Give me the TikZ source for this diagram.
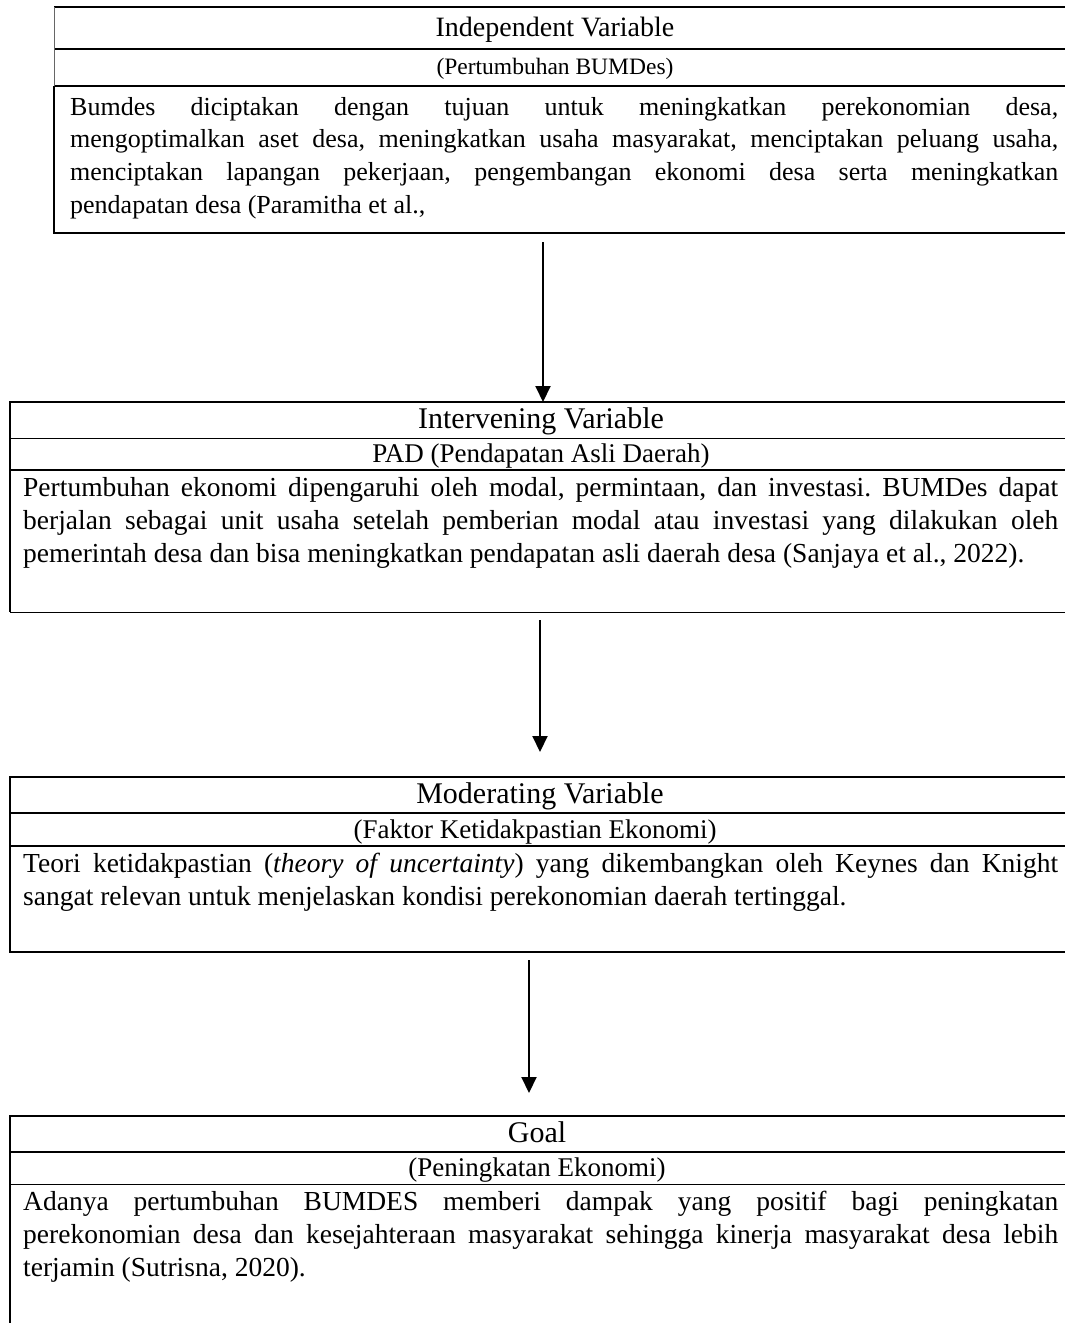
\documentclass[tikz,border=0pt]{standalone}
\usepackage{fontspec}
\setmainfont{Liberation Serif}
\usetikzlibrary{arrows.meta}
\frenchspacing

\tikzset{
  heavy/.style={line width=1.8pt},
  light/.style={line width=1pt},
  headtext/.style={anchor=base, inner sep=0pt, font=\fontsize{30}{34}\selectfont},
  subtext/.style={anchor=base, inner sep=0pt, font=\fontsize{27}{32}\selectfont},
  bodytext/.style={anchor=north west, inner sep=0pt, align=justify,
    font=\fontsize{27.5}{33}\selectfont, execute at begin node=\strut},
  flow/.style={line width=2pt, -{Triangle[width=15pt,length=16pt]}}
}

\begin{document}
\begin{tikzpicture}[x=1pt, y=-1pt]
  \useasboundingbox (0,0) rectangle (1065,1323);

  % independent variable
  \draw[heavy] (1065,7) -- (54,7);
  \draw[heavy] (54,49) -- (1065,49);
  \draw[heavy] (54,86) -- (1065,86);
  \draw[heavy] (54,86) -- (54,233) -- (1065,233);
  \draw[light, black!60] (54,7) -- (54,86);
  \node[headtext, font=\fontsize{28}{32}\selectfont] (indep) at (555,36) {Independent Variable};
  \node[subtext, font=\fontsize{23.5}{28}\selectfont] (indepsub) at (555,74) {(Pertumbuhan BUMDes)};
  \node[bodytext, text width=988pt, font=\fontsize{26}{32.7}\selectfont] (indepbody) at (70,92) {Bumdes diciptakan dengan tujuan untuk meningkatkan perekonomian desa,\linebreak
    mengoptimalkan aset desa, meningkatkan usaha masyarakat, menciptakan peluang usaha,\linebreak
    menciptakan lapangan pekerjaan, pengembangan ekonomi desa serta meningkatkan\linebreak
    pendapatan desa (Paramitha et al.,};

  % intervening variable
  \draw[heavy] (1065,402) -- (10,402) -- (10,612);
  \draw[light] (10,438) -- (1065,438);
  \draw[heavy] (10,470) -- (1065,470);
  \draw[light] (10,612) -- (1065,612);
  \node[headtext] (interv) at (541,428) {Intervening Variable};
  \node[subtext] (intervsub) at (541,462) {PAD (Pendapatan Asli Daerah)};
  \node[bodytext, text width=1035pt] (intervbody) at (23,473) {Pertumbuhan ekonomi dipengaruhi oleh modal, permintaan, dan investasi. BUMDes dapat\linebreak
    berjalan sebagai unit usaha setelah pemberian modal atau investasi yang dilakukan oleh\linebreak
    pemerintah desa dan bisa meningkatkan pendapatan asli daerah desa (Sanjaya et al., 2022).};

  % moderating variable
  \draw[heavy] (1065,777) -- (10,777) -- (10,952) -- (1065,952);
  \draw[heavy] (10,813) -- (1065,813);
  \draw[heavy] (10,846) -- (1065,846);
  \node[headtext] (moder) at (540,803) {Moderating Variable};
  \node[subtext] (modersub) at (535,838) {(Faktor Ketidakpastian Ekonomi)};
  \node[bodytext, text width=1035pt] (moderbody) at (23,849) {Teori ketidakpastian (\textit{theory of uncertainty}) yang dikembangkan oleh Keynes dan Knight\linebreak
    sangat relevan untuk menjelaskan kondisi perekonomian daerah tertinggal.};

  % goal
  \draw[heavy] (1065,1116) -- (10,1116) -- (10,1323);
  \draw[heavy] (10,1152) -- (1065,1152);
  \draw[light] (10,1184) -- (1065,1184);
  \node[headtext] (goal) at (537,1142) {Goal};
  \node[subtext] (goalsub) at (537,1176) {(Peningkatan Ekonomi)};
  \node[bodytext, text width=1035pt] (goalbody) at (23,1187) {Adanya pertumbuhan BUMDES memberi dampak yang positif bagi peningkatan\linebreak
    perekonomian desa dan kesejahteraan masyarakat sehingga kinerja masyarakat desa lebih\linebreak
    terjamin (Sutrisna, 2020).};

  % arrows
  \coordinate (a1) at (543,242);
  \coordinate (b1) at (543,402);
  \coordinate (a2) at (540,620);
  \coordinate (b2) at (540,752);
  \coordinate (a3) at (529,960);
  \coordinate (b3) at (529,1093);
  \draw[flow] (a1) -- (b1);
  \draw[flow] (a2) -- (b2);
  \draw[flow] (a3) -- (b3);
\end{tikzpicture}
\end{document}
